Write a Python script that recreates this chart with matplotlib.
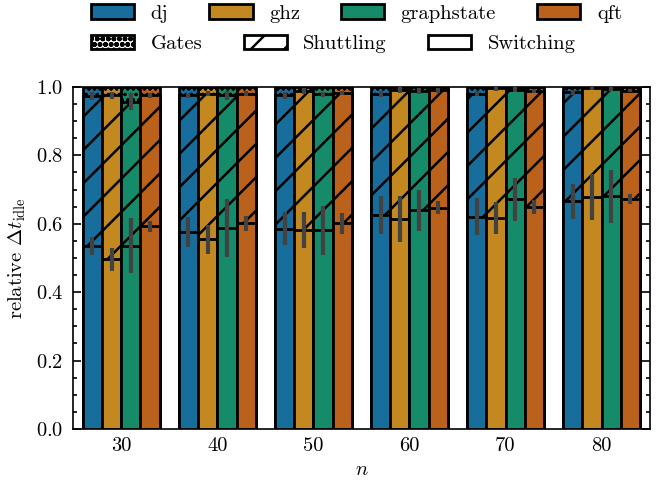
import matplotlib
matplotlib.use("Agg")
import matplotlib.pyplot as plt
from matplotlib.patches import Patch
from matplotlib.ticker import MultipleLocator
import numpy as np
import seaborn as sns

plt.rcParams.update({
    "font.family": "serif",
    "font.serif": ["cmr10", "DejaVu Serif"],
    "mathtext.fontset": "cm",
    "axes.formatter.use_mathtext": True,
    "font.size": 7.4,
    "axes.linewidth": 0.6,
    "hatch.linewidth": 0.9,
    "xtick.direction": "in",
    "ytick.direction": "in",
    "ytick.right": True,
    "ytick.major.size": 3,
    "ytick.minor.size": 1.5,
    "ytick.major.width": 0.6,
    "ytick.minor.width": 0.6,
})

n_values = [30, 40, 50, 60, 70, 80]
algorithms = ["dj", "ghz", "graphstate", "qft"]

# switching share (bottom segment) and its error half-width
switching = {
    "dj":         [0.536, 0.577, 0.585, 0.626, 0.621, 0.665],
    "ghz":        [0.496, 0.554, 0.581, 0.614, 0.616, 0.678],
    "graphstate": [0.536, 0.588, 0.581, 0.640, 0.671, 0.680],
    "qft":        [0.592, 0.601, 0.601, 0.647, 0.648, 0.673],
}
switching_err = {
    "dj":         [0.026, 0.044, 0.048, 0.055, 0.053, 0.052],
    "ghz":        [0.033, 0.043, 0.052, 0.066, 0.047, 0.067],
    "graphstate": [0.080, 0.084, 0.072, 0.060, 0.064, 0.077],
    "qft":        [0.017, 0.021, 0.031, 0.019, 0.021, 0.015],
}
# switching + shuttling (top of hatched segment); gates fill up to 1.0
switch_shuttle = {
    "dj":         [0.974, 0.975, 0.976, 0.979, 0.980, 0.984],
    "ghz":        [0.976, 0.980, 0.988, 0.990, 0.996, 0.997],
    "graphstate": [0.957, 0.975, 0.978, 0.988, 0.992, 0.995],
    "qft":        [0.975, 0.980, 0.982, 0.990, 0.987, 0.989],
}
switch_shuttle_err = {
    "dj":         [0.012, 0.008, 0.010, 0.008, 0.007, 0.007],
    "ghz":        [0.010, 0.007, 0.008, 0.009, 0.007, 0.006],
    "graphstate": [0.024, 0.012, 0.008, 0.008, 0.007, 0.006],
    "qft":        [0.007, 0.007, 0.006, 0.007, 0.006, 0.005],
}

palette = [sns.desaturate(c, 0.75) for c in sns.color_palette("colorblind", 4)]
gates_hatch = "oooooo"
gates_lw = 0.4


def thin_hatch(patches, lw=gates_lw):
    for p in patches:
        if hasattr(p, "set_hatch_linewidth"):
            p.set_hatch_linewidth(lw)


fig = plt.figure(figsize=(3.325, 2.415), dpi=200)
ax = fig.add_axes([0.11, 0.112, 0.867, 0.708])

x = np.arange(len(n_values))
width = 0.2
errcol = "#424242"
for i, alg in enumerate(algorithms):
    pos = x + (i - 1.5) * width
    col = palette[i]
    with plt.rc_context({"hatch.linewidth": gates_lw}):
        gb = ax.bar(pos, np.ones(len(n_values)), width, color=col, edgecolor="black",
                    linewidth=1.0, hatch=gates_hatch, zorder=2)
    thin_hatch(gb)
    ax.bar(pos, switch_shuttle[alg], width, color=col, edgecolor="black",
           linewidth=1.0, hatch="//", zorder=2)
    ax.bar(pos, switching[alg], width, color=col, edgecolor="black",
           linewidth=1.0, zorder=2)
    ax.errorbar(pos, switch_shuttle[alg], yerr=switch_shuttle_err[alg], fmt="none",
                ecolor=errcol, elinewidth=1.5, capsize=0, zorder=3)
    ax.errorbar(pos, switching[alg], yerr=switching_err[alg], fmt="none",
                ecolor=errcol, elinewidth=1.5, capsize=0, zorder=3)

ax.set_xlim(-0.5, len(n_values) - 0.5)
ax.set_ylim(0, 1.0)
ax.set_xticks(x)
ax.set_xticklabels([str(v) for v in n_values])
ax.tick_params(axis="x", length=0, pad=3)
ax.yaxis.set_major_locator(MultipleLocator(0.2))
ax.yaxis.set_minor_locator(MultipleLocator(0.05))
ax.set_xlabel("$n$", labelpad=2)
ax.set_ylabel(r"relative $\Delta t_{\mathrm{idle}}$", labelpad=3)

alg_handles = [Patch(facecolor=palette[i], edgecolor="black", linewidth=1.0, label=a)
               for i, a in enumerate(algorithms)]
fig.legend(handles=alg_handles, ncol=4, frameon=False, loc="center left",
           bbox_to_anchor=(0.137, 0.972), borderpad=0, borderaxespad=0,
           handlelength=2.1, columnspacing=2.0)
with plt.rc_context({"hatch.linewidth": gates_lw}):
    gates_patch = Patch(facecolor="white", edgecolor="black", hatch=gates_hatch, label="Gates")
type_handles = [
    gates_patch,
    Patch(facecolor="white", edgecolor="black", hatch="//", label="Shuttling"),
    Patch(facecolor="white", edgecolor="black", label="Switching"),
]
thin_hatch(type_handles[:1])
fig.legend(handles=type_handles, ncol=3, frameon=False, loc="center left",
           bbox_to_anchor=(0.137, 0.909), borderpad=0, borderaxespad=0,
           handlelength=2.1, columnspacing=2.0)

fig.savefig("out.png", dpi=200)
